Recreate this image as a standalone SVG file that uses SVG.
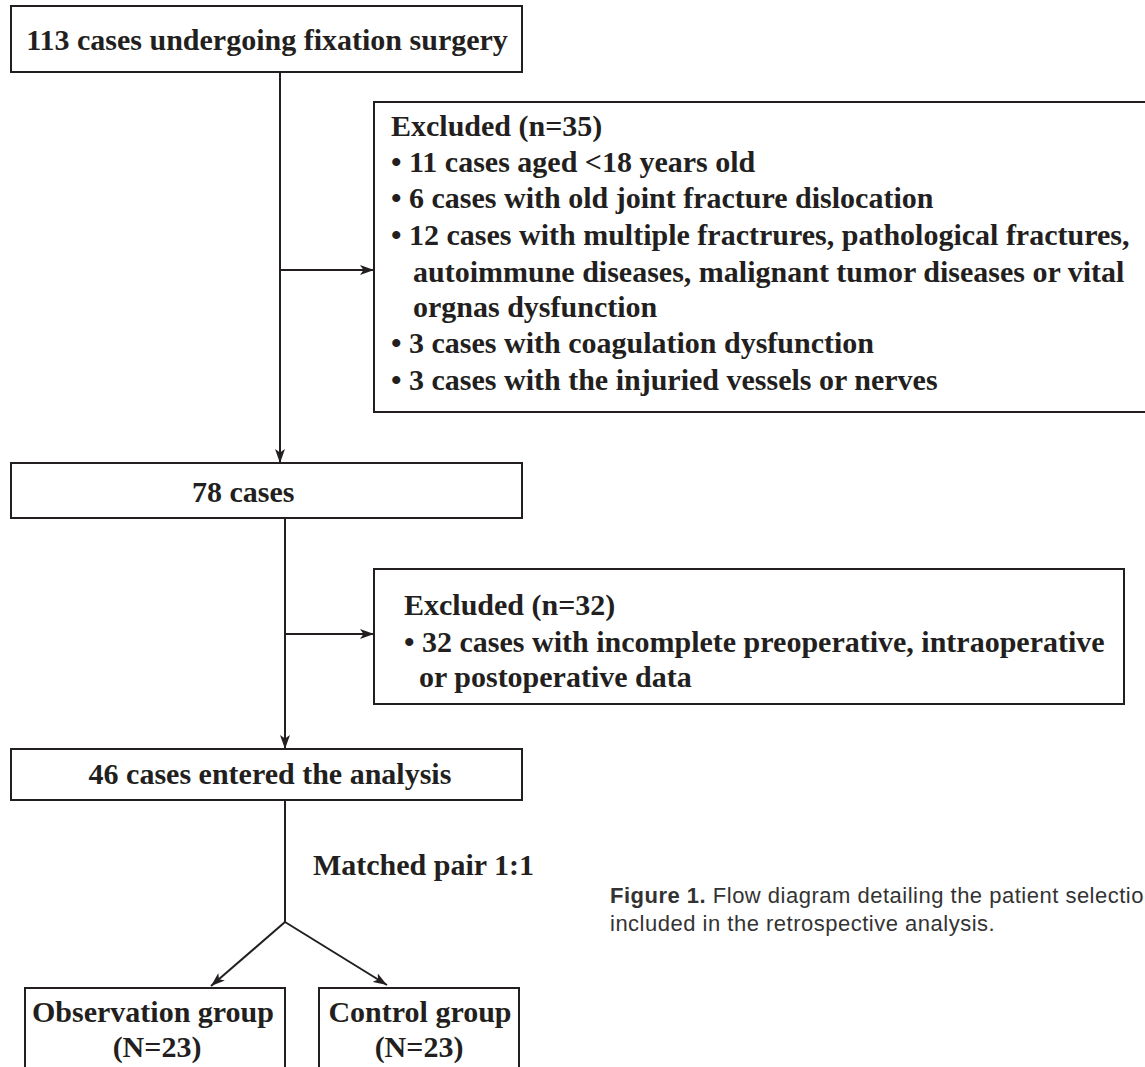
<svg xmlns="http://www.w3.org/2000/svg" width="1145" height="1067" viewBox="0 0 1145 1067">
<defs>
<marker id="ah" viewBox="0 0 14 10" refX="14" refY="5" markerWidth="14" markerHeight="10" markerUnits="userSpaceOnUse" orient="auto">
<path d="M0,0 L14,5 L0,10 L3.5,5 z" fill="#231f20"/>
</marker>
<style>
.box{fill:#fff;stroke:#231f20;stroke-width:2}
.t{font-family:"Liberation Serif","Times New Roman",serif;font-weight:bold;font-size:30px;fill:#231f20}
.c{text-anchor:middle}
.ln{fill:none;stroke:#231f20;stroke-width:2}
.cap{font-family:"Liberation Sans",Arial,sans-serif;font-size:22px;fill:#333;letter-spacing:0.5px}
</style>
</defs>
<rect width="1145" height="1067" fill="#fff"/>
<g id="connectors">
<line class="ln" x1="280" y1="73" x2="280" y2="463" marker-end="url(#ah)"/>
<line class="ln" x1="280" y1="270" x2="374" y2="270" marker-end="url(#ah)"/>
<line class="ln" x1="285" y1="518" x2="285" y2="749" marker-end="url(#ah)"/>
<line class="ln" x1="285" y1="634" x2="374" y2="634" marker-end="url(#ah)"/>
<polyline class="ln" points="285,800 285,922"/>
<line class="ln" x1="285" y1="922" x2="211" y2="986" marker-end="url(#ah)"/>
<line class="ln" x1="285" y1="922" x2="387" y2="985" marker-end="url(#ah)"/>
</g>
<g id="n1">
<rect class="box" x="11" y="6" width="511" height="66"/>
<text class="t c" x="267" y="50">113 cases undergoing fixation surgery</text>
</g>
<g id="ex1">
<rect class="box" x="374" y="102" width="774" height="310"/>
<text class="t" x="391" y="136">Excluded (n=35)</text>
<text class="t" x="391" y="172">• 11 cases aged &lt;18 years old</text>
<text class="t" x="391" y="208">• 6 cases with old joint fracture dislocation</text>
<text class="t" x="391" y="245">• 12 cases with multiple fractrures, pathological fractures,</text>
<text class="t" x="413" y="282">autoimmune diseases, malignant tumor diseases or vital</text>
<text class="t" x="413" y="317">orgnas dysfunction</text>
<text class="t" x="391" y="353">• 3 cases with coagulation dysfunction</text>
<text class="t" x="391" y="390">• 3 cases with the injuried vessels or nerves</text>
</g>
<g id="n2">
<rect class="box" x="11" y="463" width="511" height="55"/>
<text class="t" x="192" y="502">78 cases</text>
</g>
<g id="ex2">
<rect class="box" x="374" y="569" width="750" height="135"/>
<text class="t" x="404" y="615">Excluded (n=32)</text>
<text class="t" x="404" y="652">• 32 cases with incomplete preoperative, intraoperative</text>
<text class="t" x="419" y="687">or postoperative data</text>
</g>
<g id="n3">
<rect class="box" x="11" y="749" width="511" height="51"/>
<text class="t c" x="270" y="784">46 cases entered the analysis</text>
</g>
<g id="lbl">
<text class="t" x="313" y="875">Matched pair 1:1</text>
</g>
<g id="obs">
<rect class="box" x="25" y="988" width="260" height="90"/>
<text class="t c" x="153" y="1022">Observation group</text>
<text class="t c" x="157" y="1057">(N=23)</text>
</g>
<g id="ctl">
<rect class="box" x="319" y="988" width="200" height="90"/>
<text class="t c" x="420" y="1022">Control group</text>
<text class="t c" x="419" y="1057">(N=23)</text>
</g>
<g id="caption">
<text class="cap" x="610" y="903"><tspan font-weight="bold">Figure 1.</tspan> Flow diagram detailing the patient selectio</text>
<text class="cap" x="610" y="931">included in the retrospective analysis.</text>
</g>
</svg>
